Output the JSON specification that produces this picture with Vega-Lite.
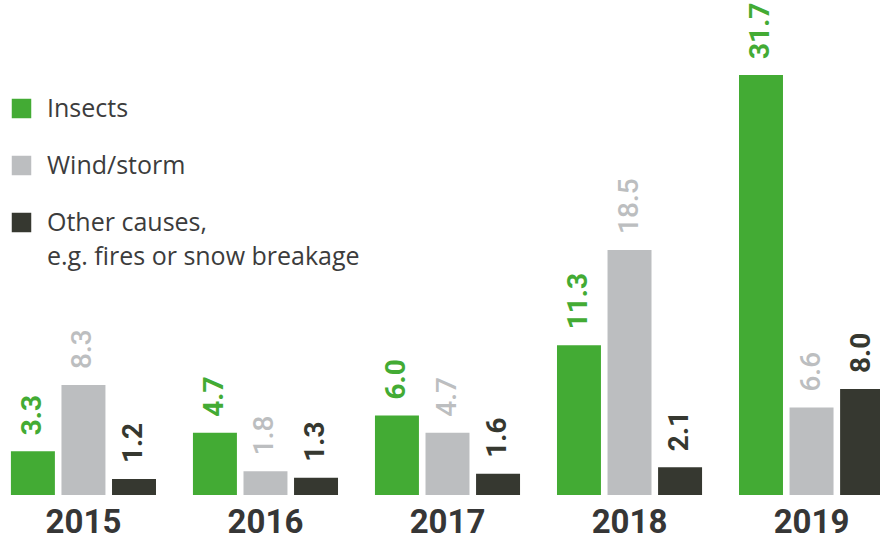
{
  "$schema": "https://vega.github.io/schema/vega-lite/v6.json",
  "width": 880,
  "height": 495,
  "autosize": {"type": "none"},
  "padding": {"left": 0, "top": 0, "right": 0, "bottom": 44},
  "background": "white",
  "config": {"view": {"stroke": null}, "font": "Roboto"},
  "data": {
    "values": [
      {"year": "2015", "cause": "Insects", "value": 3.3},
      {"year": "2015", "cause": "Wind/storm", "value": 8.3},
      {"year": "2015", "cause": "Other causes, e.g. fires or snow breakage", "value": 1.2},
      {"year": "2016", "cause": "Insects", "value": 4.7},
      {"year": "2016", "cause": "Wind/storm", "value": 1.8},
      {"year": "2016", "cause": "Other causes, e.g. fires or snow breakage", "value": 1.3},
      {"year": "2017", "cause": "Insects", "value": 6.0},
      {"year": "2017", "cause": "Wind/storm", "value": 4.7},
      {"year": "2017", "cause": "Other causes, e.g. fires or snow breakage", "value": 1.6},
      {"year": "2018", "cause": "Insects", "value": 11.3},
      {"year": "2018", "cause": "Wind/storm", "value": 18.5},
      {"year": "2018", "cause": "Other causes, e.g. fires or snow breakage", "value": 2.1},
      {"year": "2019", "cause": "Insects", "value": 31.7},
      {"year": "2019", "cause": "Wind/storm", "value": 6.6},
      {"year": "2019", "cause": "Other causes, e.g. fires or snow breakage", "value": 8.0}
    ]
  },
  "encoding": {
    "x": {
      "field": "year",
      "type": "nominal",
      "scale": {"range": [0, 895], "paddingInner": 0.203, "paddingOuter": 0.06},
      "axis": {
        "title": null,
        "domain": false,
        "ticks": false,
        "labelAngle": 0,
        "labelFont": "Roboto",
        "labelFontSize": 33,
        "labelFontWeight": "bold",
        "labelColor": "#363636",
        "labelPadding": 11
      }
    },
    "xOffset": {
      "field": "cause",
      "type": "nominal",
      "sort": ["Insects", "Wind/storm", "Other causes, e.g. fires or snow breakage"],
      "scale": {"paddingInner": 0.13, "paddingOuter": 0}
    },
    "y": {
      "field": "value",
      "type": "quantitative",
      "scale": {"domain": [0, 37.36], "nice": false, "zero": true},
      "axis": null
    },
    "color": {
      "field": "cause",
      "type": "nominal",
      "sort": ["Insects", "Wind/storm", "Other causes, e.g. fires or snow breakage"],
      "scale": {
        "domain": ["Insects", "Wind/storm", "Other causes, e.g. fires or snow breakage"],
        "range": ["#43ab34", "#bcbec0", "#363830"]
      },
      "legend": {
        "orient": "none",
        "legendX": 9,
        "legendY": 96,
        "title": null,
        "symbolType": "square",
        "symbolSize": 380,
        "symbolStrokeWidth": 0,
        "symbolOpacity": 1,
        "labelFont": "Open Sans",
        "labelFontSize": 25,
        "labelColor": "#3c3c3c",
        "labelLimit": 0,
        "labelOffset": 13,
        "rowPadding": 31,
        "labelExpr": "datum.label == 'Other causes, e.g. fires or snow breakage' ? ['Other causes,', 'e.g. fires or snow breakage'] : datum.label",
        "encode": {"labels": {"update": {"lineHeight": {"value": 34}}}}
      }
    }
  },
  "layer": [
    {"mark": {"type": "bar"}},
    {
      "transform": [{"filter": "datum.cause != 'Wind/storm'"}],
      "mark": {"type": "text", "angle": 270, "align": "left", "baseline": "middle", "dx": 16, "fontSize": 28, "fontWeight": "bold", "font": "Roboto"},
      "encoding": {"text": {"field": "value", "type": "quantitative", "format": ".1f"}}
    },
    {
      "transform": [{"filter": "datum.cause == 'Wind/storm'"}],
      "mark": {"type": "text", "angle": 270, "align": "left", "baseline": "middle", "dx": 16, "fontSize": 28, "fontWeight": 500, "font": "Roboto"},
      "encoding": {"text": {"field": "value", "type": "quantitative", "format": ".1f"}}
    }
  ]
}
